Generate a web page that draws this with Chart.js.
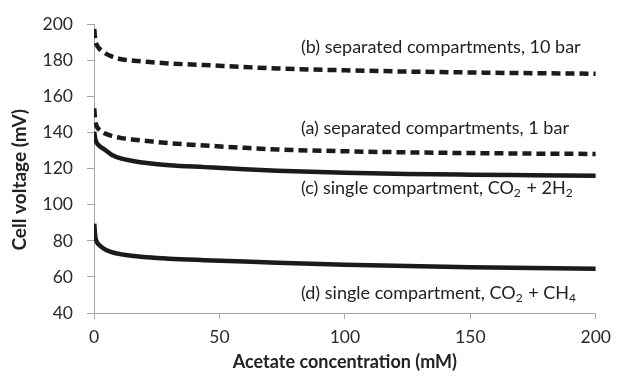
<!DOCTYPE html>
<html>
<head>
<meta charset="utf-8">
<script src="https://cdn.jsdelivr.net/npm/chart.js@4/dist/chart.umd.min.js"></script>
<style>
  html, body { margin: 0; padding: 0; background: #ffffff; }
  #wrap { width: 619px; height: 376px; }
</style>
</head>
<body>
<div id="wrap"><canvas id="c" width="619" height="376"></canvas></div>
<script>
// ---- data ----
const concentrations = [0.1, 0.5, 1, 2, 4, 7, 11, 16, 21, 30, 44, 60, 73, 100, 125, 150, 175, 200];
const separated10bar = [197.5, 191.5, 189.0, 186.8, 184.5, 182.3, 180.7, 179.9, 179.3, 178.4, 177.5, 176.4, 175.6, 174.6, 173.9, 173.4, 173.0, 172.7];
const separated1bar  = [153.5, 146.5, 143.8, 141.8, 139.8, 138.2, 137.0, 136.1, 135.4, 134.2, 132.9, 131.6, 130.7, 129.7, 129.1, 128.7, 128.4, 128.2];
const singleH2       = [140.5, 136.5, 134.6, 132.8, 130.9, 127.8, 125.6, 124.2, 123.2, 122.0, 120.9, 119.7, 118.9, 117.8, 117.1, 116.7, 116.4, 116.1];
const singleCH4      = [89.5, 82.5, 79.8, 77.8, 75.6, 73.8, 72.5, 71.6, 70.9, 70.1, 69.3, 68.5, 67.9, 66.8, 66.0, 65.4, 64.9, 64.5];

const xTickValues = [0, 50, 100, 150, 200];
const yTickValues = [40, 60, 80, 100, 120, 140, 160, 180, 200];

const yAxisTitle = 'Cell voltage (mV)';
const xAxisTitle = 'Acetate concentration (mM)';

// curve labels: segments [text, isSubscript]; anchor in data units
const curveLabels = [
  [["(b) separated compartments, 10 bar", false]],
  [["(a) separated compartments, 1 bar", false]],
  [["(c) single compartment, CO", false], ["2", true], [" + 2H", false], ["2", true]],
  [["(d) single compartment, CO", false], ["2", true], [" + CH", false], ["4", true]]
];
const labelX = [82.5, 82.5, 82.5, 82.5];
const labelY = [187.2, 142.7, 109.0, 51.0];

const FONT = "Lato, 'Open Sans', 'Liberation Sans', sans-serif";
const INK = '#1b1b1b';
const AXIS = '#a6a6a6';

function pts(ys) { return concentrations.map((x, i) => ({ x: x, y: ys[i] })); }

const labelPlugin = {
  id: 'curveLabels',
  afterDatasetsDraw(chart) {
    const ctx = chart.ctx;
    const xs = chart.scales.x, ys = chart.scales.y;
    ctx.save();
    ctx.fillStyle = '#222222';
    ctx.textBaseline = 'middle';
    ctx.textAlign = 'left';
    curveLabels.forEach((segs, i) => {
      let px = xs.getPixelForValue(labelX[i]);
      const py = ys.getPixelForValue(labelY[i]);
      segs.forEach(([t, sub]) => {
        ctx.font = sub ? `12px ${FONT}` : `18px ${FONT}`;
        ctx.fillText(t, px, sub ? py + 5 : py);
        px += ctx.measureText(t).width + (sub ? 1 : 0);
      });
    });
    // y axis title (Excel places it slightly below the plot centre)
    const area = chart.chartArea;
    ctx.save();
    ctx.translate(20, (area.top + area.bottom) / 2 + 11);
    ctx.rotate(-Math.PI / 2);
    ctx.textAlign = 'center';
    ctx.textBaseline = 'middle';
    ctx.font = `bold 19px ${FONT}`;
    ctx.fillText(yAxisTitle, 0, 0);
    ctx.restore();
    ctx.restore();
  }
};

const common = { borderColor: INK, backgroundColor: INK, borderWidth: 4.5, pointRadius: 0, fill: false, cubicInterpolationMode: 'monotone', borderCapStyle: 'butt' };

new Chart(document.getElementById('c'), {
  type: 'line',
  data: {
    datasets: [
      Object.assign({ label: '(b) separated compartments, 10 bar', data: pts(separated10bar), borderDash: [9, 5] }, common),
      Object.assign({ label: '(a) separated compartments, 1 bar', data: pts(separated1bar), borderDash: [9, 5] }, common),
      Object.assign({ label: '(c) single compartment, CO2 + 2H2', data: pts(singleH2) }, common),
      Object.assign({ label: '(d) single compartment, CO2 + CH4', data: pts(singleCH4) }, common)
    ]
  },
  options: {
    responsive: false,
    animation: false,
    devicePixelRatio: 1,
    layout: { padding: { left: 0, right: 17, top: 23, bottom: 0 } },
    plugins: { legend: { display: false }, tooltip: { enabled: false } },
    scales: {
      x: {
        type: 'linear', min: 0, max: 200,
        afterBuildTicks(s) { s.ticks = xTickValues.map(v => ({ value: v })); },
        afterFit(s) { s.height = 63; },
        grid: { display: true, drawOnChartArea: false, drawTicks: true, tickLength: 6, color: AXIS, tickColor: AXIS },
        border: { display: true, color: AXIS, width: 1 },
        ticks: { color: '#2a2a2a', font: { family: FONT, size: 17.5 }, padding: 8, maxRotation: 0 },
        title: { display: true, text: xAxisTitle, color: '#222222', font: { family: FONT, size: 18, weight: 'bold' }, padding: { top: 0, bottom: 3 } }
      },
      y: {
        type: 'linear', min: 40, max: 200,
        afterBuildTicks(s) { s.ticks = yTickValues.map(v => ({ value: v })); },
        afterFit(s) { s.width = 94; },
        grid: { display: true, drawOnChartArea: false, drawTicks: true, tickLength: 7, color: AXIS, tickColor: AXIS },
        border: { display: true, color: AXIS, width: 1 },
        ticks: { color: '#2a2a2a', font: { family: FONT, size: 17.5 }, padding: 14 },
        title: { display: false, text: yAxisTitle }
      }
    }
  },
  plugins: [labelPlugin]
});
</script>
</body>
</html>
